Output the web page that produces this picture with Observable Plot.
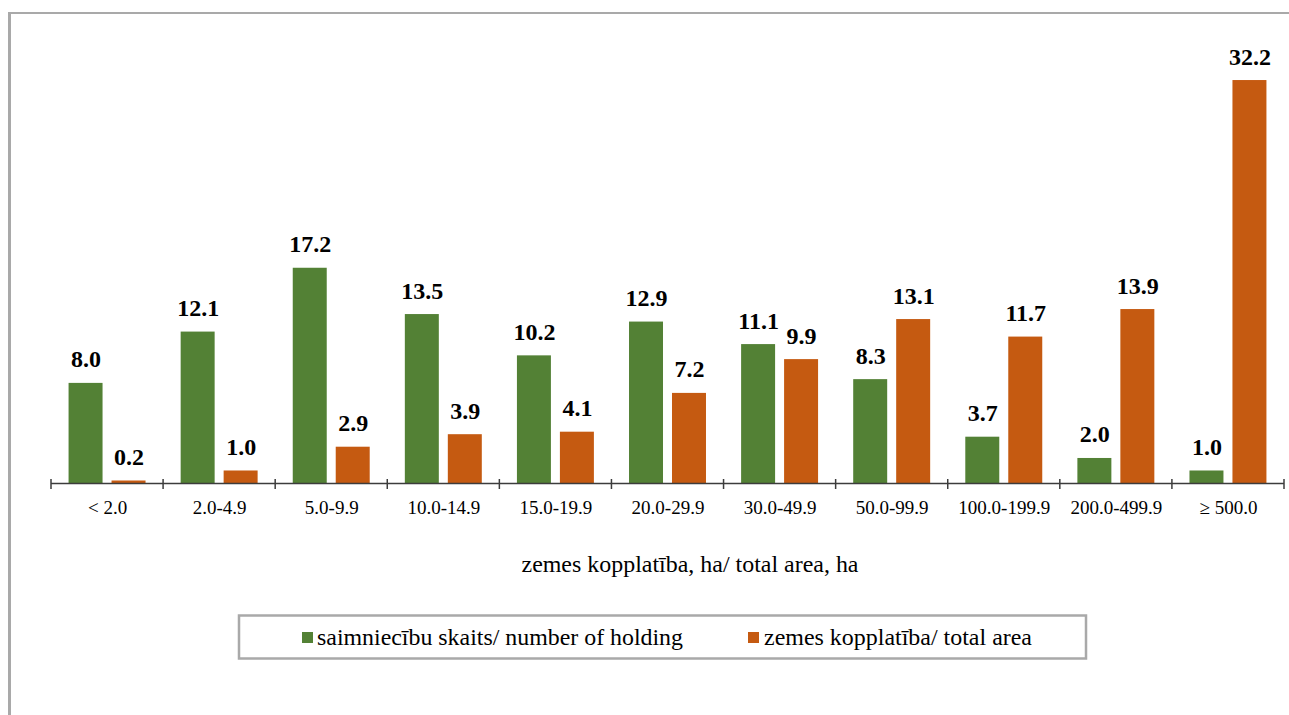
<!DOCTYPE html>
<html>
<head>
<meta charset="utf-8">
<script src="https://cdn.jsdelivr.net/npm/d3@7"></script>
<script src="https://cdn.jsdelivr.net/npm/@observablehq/plot@0.6"></script>
<style>
  body { margin: 0; background: #fff; }
  #wrap { position: relative; width: 1289px; height: 715px; overflow: hidden; background: #fff; }
  #chart { position: absolute; left: 0; top: 0; }
  #frame { position: absolute; left: 8px; top: 12px; width: 1400px; height: 800px;
           border-left: 3px solid #a9a9a9; border-top: 2px solid #a9a9a9; pointer-events: none; }
</style>
</head>
<body>
<div id="wrap"><div id="chart"></div><div id="frame"></div></div>
<script>
// ---- data ----
const categories = ["< 2.0", "2.0-4.9", "5.0-9.9", "10.0-14.9", "15.0-19.9", "20.0-29.9",
                    "30.0-49.9", "50.0-99.9", "100.0-199.9", "200.0-499.9", "≥ 500.0"];
const seriesNames = ["saimniecību skaits/ number of holding", "zemes kopplatība/ total area"];
const holdings = [8.0, 12.1, 17.2, 13.5, 10.2, 12.9, 11.1, 8.3, 3.7, 2.0, 1.0];
const area     = [0.2, 1.0, 2.9, 3.9, 4.1, 7.2, 9.9, 13.1, 11.7, 13.9, 32.2];
const colors = ["#538135", "#c55a11"];
const xTitle = "zemes kopplatība, ha/ total area, ha";

const data = categories.flatMap((c, i) => [
  {cat: c, series: seriesNames[0], value: holdings[i]},
  {cat: c, series: seriesNames[1], value: area[i]}
]);

const serif = "Liberation Serif, Times New Roman, serif";
const baseY = 483;

const plot = Plot.plot({
  width: 1289,
  height: 715,
  marginLeft: 51,
  marginRight: 5,
  marginTop: 45,
  marginBottom: 715 - baseY,
  style: {fontFamily: serif, fontSize: "19px", background: "transparent", color: "#000"},
  fx: {domain: categories, padding: 0, round: false, label: null},
  x: {domain: seriesNames, paddingInner: 0.2093, paddingOuter: 0.4087, round: false, axis: null},
  y: {domain: [0, 35], axis: null},
  color: {domain: seriesNames, range: colors},
  marks: [
    Plot.barY(data, {fx: "cat", x: "series", y: "value", fill: "series"}),
    Plot.ruleY([0], {stroke: "#3c3c3c", strokeWidth: 1.5}),
    Plot.text(data, {fx: "cat", x: "series", y: "value", text: d => d.value.toFixed(1),
      lineAnchor: "bottom", dy: -16, fontSize: 24, fontWeight: "bold", fontFamily: serif, fill: "#000"}),
    Plot.axisFx({anchor: "bottom", tickSize: 0, tickPadding: 17, label: null, fill: "#000", fontFamily: serif})
  ]
});

document.getElementById("chart").appendChild(plot);

const svg = d3.select(plot);
const fx = plot.scale("fx");
const y = plot.scale("y");
const color = plot.scale("color");
const y0 = y.apply(0);

// category boundary ticks
const bounds = categories.map(c => fx.apply(c));
bounds.push(fx.apply(categories[categories.length - 1]) + fx.bandwidth);
svg.append("g").selectAll("line").data(bounds).join("line")
  .attr("x1", d => d).attr("x2", d => d)
  .attr("y1", y0 - 4).attr("y2", y0 + 6)
  .attr("stroke", "#3c3c3c").attr("stroke-width", 1.5);

// axis title
svg.append("text")
  .attr("x", 690).attr("y", 572)
  .attr("text-anchor", "middle")
  .attr("font-family", serif).attr("font-size", 24).attr("fill", "#000")
  .attr("textLength", 337).attr("lengthAdjust", "spacingAndGlyphs")
  .text(xTitle);

// legend
const lg = svg.append("g").attr("text-anchor", "start");
lg.append("rect").attr("x", 239).attr("y", 615.5).attr("width", 847).attr("height", 43)
  .attr("fill", "#fff").attr("stroke", "#a9a9a9").attr("stroke-width", 2.5);
const items = [
  {name: seriesNames[0], sx: 302, tx: 317, tw: 366},
  {name: seriesNames[1], sx: 748, tx: 764, tw: 268}
];
items.forEach(it => {
  lg.append("rect").attr("x", it.sx).attr("y", 632).attr("width", 11).attr("height", 11)
    .attr("fill", color.apply(it.name));
  lg.append("text").attr("x", it.tx).attr("y", 645)
    .attr("text-anchor", "start")
    .attr("font-family", serif).attr("font-size", 23).attr("fill", "#000")
    .attr("textLength", it.tw).attr("lengthAdjust", "spacingAndGlyphs")
    .text(it.name);
});
</script>
</body>
</html>
